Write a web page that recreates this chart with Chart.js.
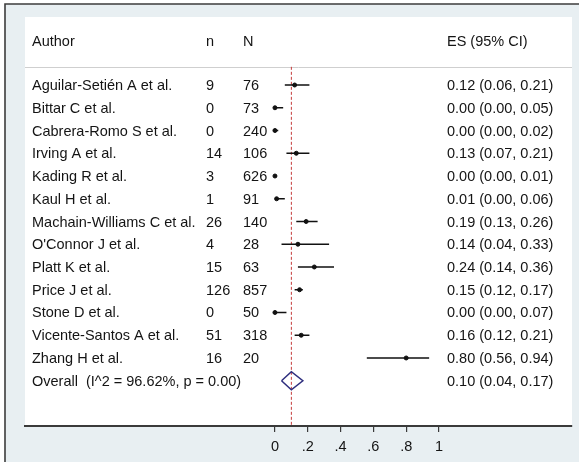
<!DOCTYPE html>
<html>
<head>
<meta charset="utf-8">
<script src="https://cdn.jsdelivr.net/npm/chart.js@4"></script>
<style>
  html, body { margin: 0; padding: 0; background: #fff; }
  #wrap { width: 579px; height: 462px; }
</style>
</head>
<body>
<div id="wrap"><canvas id="forest" width="579" height="462"></canvas></div>
<script>
// ---- data ----
const authors = ["Aguilar-Setién A et al.", "Bittar C et al.", "Cabrera-Romo S et al.", "Irving A et al.",
  "Kading R et al.", "Kaul H et al.", "Machain-Williams C et al.", "O'Connor J et al.", "Platt K et al.",
  "Price J et al.", "Stone D et al.", "Vicente-Santos A et al.", "Zhang H et al."];
const nEvents = [9, 0, 0, 14, 3, 1, 26, 4, 15, 126, 0, 51, 16];
const nTotal = [76, 73, 240, 106, 626, 91, 140, 28, 63, 857, 50, 318, 20];
const es = [0.12, 0.00, 0.00, 0.13, 0.00, 0.01, 0.19, 0.14, 0.24, 0.15, 0.00, 0.16, 0.80];
const lower = [0.06, 0.00, 0.00, 0.07, 0.00, 0.00, 0.13, 0.04, 0.14, 0.12, 0.00, 0.12, 0.56];
const upper = [0.21, 0.05, 0.02, 0.21, 0.01, 0.06, 0.26, 0.33, 0.36, 0.17, 0.07, 0.21, 0.94];

const overallLabel = "Overall  (I^2 = 96.62%, p = 0.00)";
const overallES = 0.10, overallLo = 0.04, overallHi = 0.17;

const xTickValues = [0, 0.2, 0.4, 0.6, 0.8, 1];
const xTickLabels = ["0", ".2", ".4", ".6", ".8", "1"];

// ---- layout ----
const FONT = "'Liberation Sans', Arial, sans-serif";
const headerRow = -1.9, sepRow = -0.8, overallRow = authors.length;
const colAuthor = 32, colN = 206, colNN = 243, colES = 447;

const fmt = v => v.toFixed(2);

// CI segments, broken by null gaps
const ciData = [];
es.forEach((v, i) => {
  ciData.push({x: lower[i], y: i}, {x: upper[i], y: i}, {x: upper[i], y: null});
});

const pointData = es.map((v, i) => ({x: v, y: i}));

const diamondData = [
  {x: overallLo, y: overallRow},
  {x: overallES, y: overallRow - 0.4},
  {x: overallHi, y: overallRow},
  {x: overallES, y: overallRow + 0.4},
  {x: overallLo, y: overallRow}
];

const refLine = [{x: overallES, y: sepRow}, {x: overallES, y: 14.99}];

// background, panel, header separator
const frame = {
  id: "frame",
  beforeDraw(chart) {
    const c = chart.ctx, a = chart.chartArea, y = chart.scales.y;
    c.save();
    c.fillStyle = "#ffffff";
    c.fillRect(0, 0, chart.width, chart.height);
    c.fillStyle = "#e8eff2";
    c.fillRect(5, 4, chart.width, chart.height);
    c.strokeStyle = "#3c3c3c";
    c.lineWidth = 1.6;
    c.beginPath();
    c.moveTo(5, chart.height); c.lineTo(5, 4); c.lineTo(chart.width, 4);
    c.stroke();
    c.fillStyle = "#ffffff";
    c.fillRect(a.left, a.top, a.right - a.left, a.bottom - a.top);
    const ys = Math.round(y.getPixelForValue(sepRow)) + 0.5;
    c.strokeStyle = "#cfcfcf";
    c.lineWidth = 1;
    c.beginPath(); c.moveTo(a.left, ys); c.lineTo(a.right, ys); c.stroke();
    c.restore();
  }
};

// table text
const table = {
  id: "table",
  afterDraw(chart) {
    const c = chart.ctx, y = chart.scales.y;
    c.save();
    c.font = "14.5px " + FONT;
    c.fillStyle = "#141414";
    c.textBaseline = "middle";
    c.textAlign = "left";
    const hy = y.getPixelForValue(headerRow);
    c.fillText("Author", colAuthor, hy);
    c.fillText("n", colN, hy);
    c.fillText("N", colNN, hy);
    c.fillText("ES (95% CI)", colES, hy);
    authors.forEach((name, i) => {
      const py = y.getPixelForValue(i) + 1;
      c.fillText(name, colAuthor, py);
      c.fillText(String(nEvents[i]), colN, py);
      c.fillText(String(nTotal[i]), colNN, py);
      c.fillText(fmt(es[i]) + " (" + fmt(lower[i]) + ", " + fmt(upper[i]) + ")", colES, py);
    });
    const oy = y.getPixelForValue(overallRow) + 1;
    c.fillText(overallLabel, colAuthor, oy);
    c.fillText(fmt(overallES) + " (" + fmt(overallLo) + ", " + fmt(overallHi) + ")", colES, oy);
    c.restore();
  }
};

new Chart(document.getElementById("forest"), {
  type: "scatter",
  data: {
    datasets: [
      {
        type: "line", data: refLine, borderColor: "#c43a3a", borderWidth: 1,
        borderDash: [3, 2], pointRadius: 0, order: 4
      },
      {
        type: "line", data: ciData, borderColor: "#111", borderWidth: 1.5,
        pointRadius: 0, spanGaps: false, order: 3
      },
      {
        data: pointData, backgroundColor: "#111", borderColor: "#111",
        pointRadius: 2, borderWidth: 1, order: 2
      },
      {
        type: "line", data: diamondData, borderColor: "#2e2e7e", borderWidth: 1.5,
        pointRadius: 0, fill: false, order: 1
      }
    ]
  },
  options: {
    responsive: false,
    animation: false,
    events: [],
    layout: { padding: { left: 25, right: 7, top: 17, bottom: 0 } },
    plugins: { legend: { display: false }, tooltip: { enabled: false } },
    scales: {
      x: {
        type: "linear",
        min: -1.524, max: 1.811,
        afterBuildTicks: s => { s.ticks = xTickValues.map(v => ({value: v})); },
        afterFit: s => { s.height = 36; },
        ticks: {
          callback: (v) => xTickLabels[xTickValues.indexOf(v)] ?? "",
          color: "#141414",
          font: { family: FONT, size: 14.5 },
          padding: 6,
          maxRotation: 0,
          autoSkip: false
        },
        grid: { drawOnChartArea: false, drawTicks: true, tickLength: 6, color: "#3a3a3a", lineWidth: 1.2 },
        border: { display: true, color: "#3a3a3a", width: 2 }
      },
      y: {
        type: "linear",
        display: false,
        reverse: true,
        min: -2.99, max: 14.99
      }
    }
  },
  plugins: [frame, table]
});
</script>
</body>
</html>
